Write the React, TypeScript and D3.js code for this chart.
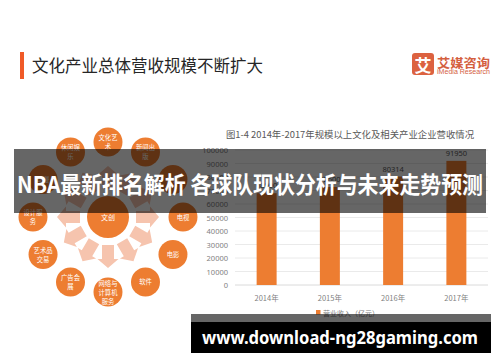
import React from 'react';
import * as d3 from 'd3';

// bar chart data (2014/2015 hidden under the banner in the source, estimated)
const years = ['2014年', '2015年', '2016年', '2017年'];
const revenue = [68000, 72600, 80314, 91950];
const yTicks = [0, 10000, 20000, 30000, 40000, 50000, 60000, 70000, 80000, 90000, 100000];

// ring of sectors around the centre node, clockwise from the top
const sectors: string[][] = [
    ['文化艺', '术'],
    ['新闻出', '版'],
    ['广播'],
    ['电视'],
    ['电影'],
    ['软件'],
    ['网络与', '计算机', '服务'],
    ['广告会', '展'],
    ['艺术品', '交易'],
    ['设计服', '务'],
    ['动漫'],
    ['休闲娱', '乐'],
];

const CJK = '"Noto Sans CJK SC", "Noto Sans", sans-serif';
const ORANGE = '#ed7d31';

export default function App() {
    const x = d3.scaleBand<string>().domain(years).range([235, 488]).paddingInner(0.684).paddingOuter(0.342);
    const y = d3.scaleLinear().domain([0, 100000]).range([285, 150]);

    const cx = 108;
    const cy = 217;
    const ringR = 75;
    const angle = d3.scaleLinear().domain([0, sectors.length]).range([0, 360]);

    // block arrow pointing along +x, rotated per sector
    const arrow = d3.line()([
        [28, -6], [42, -6], [42, -10.5], [51, 0], [42, 10.5], [42, 6], [28, 6],
    ]) + 'Z';

    return (
        <svg width={500} height={362} style={{ position: 'absolute', left: 0, top: 0, background: '#fff' }}>
            {/* header */}
            <rect x={20} y={52} width={4} height={27} fill="#f05a28" />
            <text x={32} y={64.5} dominantBaseline="central" fontFamily={CJK} fontSize={16.5} fill="#262626">
                文化产业总体营收规模不断扩大
            </text>
            <rect x={412} y={53} width={22} height={22} rx={3} fill="#dc6240" />
            <text x={423} y={64.5} textAnchor="middle" dominantBaseline="central" fontFamily={CJK} fontWeight={700} fontSize={17} fill="#fff">
                艾
            </text>
            <text x={437} y={62} dominantBaseline="central" fontFamily={CJK} fontWeight={700} fontSize={12.5} fill="#d4603f" textLength={53} lengthAdjust="spacingAndGlyphs">
                艾媒咨询
            </text>
            <text x={437} y={71.5} dominantBaseline="central" fontFamily='"Liberation Sans", sans-serif' fontSize={6.3} fill="#d4603f" textLength={53} lengthAdjust="spacingAndGlyphs">
                iMedia Research
            </text>

            {/* sector diagram */}
            {sectors.map((_, i) => (
                <path key={'a' + i} d={arrow} fill="#f6c4ae" transform={`translate(${cx},${cy}) rotate(${angle(i) - 90})`} />
            ))}
            <circle cx={cx} cy={cy} r={21} fill={ORANGE} />
            <text x={cx} y={cy} textAnchor="middle" dominantBaseline="central" fontFamily={CJK} fontSize={7} fill="#fff">文创</text>
            {sectors.map((lines, i) => {
                const a = (angle(i) * Math.PI) / 180;
                const px = cx + ringR * Math.sin(a);
                const py = cy - ringR * Math.cos(a);
                return (
                    <g key={'s' + i} transform={`translate(${px},${py})`}>
                        <circle r={14.5} fill={ORANGE} />
                        {lines.map((t, j) => (
                            <text key={j} y={(j - (lines.length - 1) / 2) * 9} textAnchor="middle" dominantBaseline="central" fontFamily={CJK} fontSize={6.3} fill="#fff">
                                {t}
                            </text>
                        ))}
                    </g>
                );
            })}

            {/* bar chart */}
            <text x={350} y={134} textAnchor="middle" dominantBaseline="central" fontFamily={CJK} fontSize={9.4} fill="#595959">
                图1-4 2014年-2017年规模以上文化及相关产业企业营收情况
            </text>
            {yTicks.map((t) => (
                <g key={t}>
                    <line x1={235} x2={488} y1={y(t)} y2={y(t)} stroke={t === 0 ? '#d0d0d0' : '#e4e4e4'} strokeWidth={0.8} />
                    <text x={228} y={y(t)} textAnchor="end" dominantBaseline="central" fontFamily='"Noto Sans", sans-serif' fontSize={7.5} fill="#7f7f7f">
                        {t}
                    </text>
                </g>
            ))}
            {years.map((yr, i) => (
                <g key={yr}>
                    <rect x={x(yr)} y={y(revenue[i])} width={x.bandwidth()} height={y(0) - y(revenue[i])} fill={ORANGE} />
                    <text x={x(yr)! + x.bandwidth() / 2} y={y(revenue[i]) - 8} textAnchor="middle" dominantBaseline="central" fontFamily='"Noto Sans", sans-serif' fontSize={7.5} fill="#595959">
                        {revenue[i]}
                    </text>
                    <text x={x(yr)! + x.bandwidth() / 2} y={297} textAnchor="middle" dominantBaseline="central" fontFamily={CJK} fontSize={7.5} fill="#7f7f7f">
                        {yr}
                    </text>
                </g>
            ))}
            <rect x={316} y={310} width={4.5} height={4.5} fill={ORANGE} />
            <text x={323} y={312.5} dominantBaseline="central" fontFamily={CJK} fontSize={7} fill="#7f7f7f">
                营业收入（亿元）
            </text>

            {/* title banner overlay */}
            <rect x={14} y={149} width={472} height={64} fill="rgba(0,0,0,0.6)" />
            <text x={250} y={183} textAnchor="middle" dominantBaseline="central" fontFamily={CJK} fontWeight={700} fontSize={23} fill="#fff" textLength={466} lengthAdjust="spacingAndGlyphs">
                NBA最新排名解析 各球队现状分析与未来走势预测
            </text>

            {/* bottom url box */}
            <rect x={191} y={314} width={300} height={8} fill="rgba(0,0,0,0.6)" />
            <rect x={191} y={322} width={300} height={31} fill="#000" />
            <text x={340} y={336.5} textAnchor="middle" dominantBaseline="central" fontFamily='"Noto Sans", sans-serif' fontWeight={700} fontSize={18} fill="#fff" textLength={276} lengthAdjust="spacingAndGlyphs">
                www.download-ng28gaming.com
            </text>
        </svg>
    );
}
